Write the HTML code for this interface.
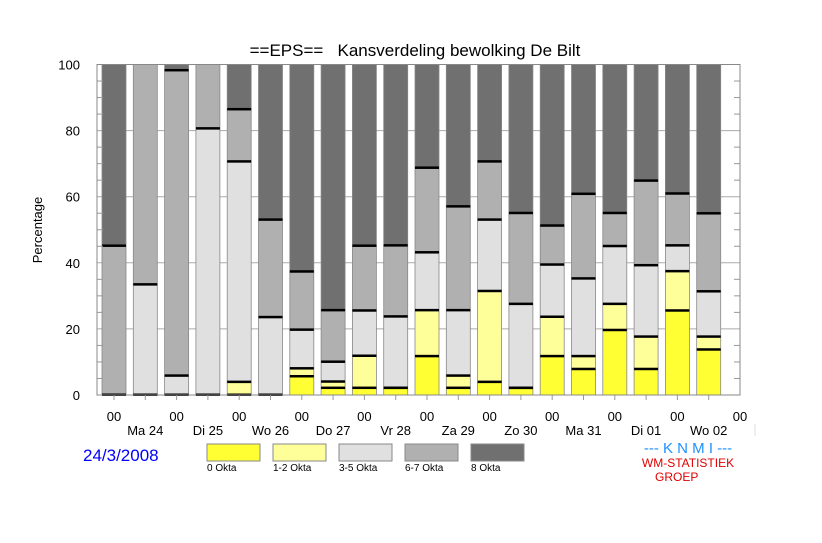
<!DOCTYPE html>
<html><head><meta charset="utf-8"><style>
body{margin:0;background:#fff}
svg text{font-family:"Liberation Sans",sans-serif}
</style></head><body>
<svg width="822" height="538" viewBox="0 0 822 538">
<text x="415" y="56" text-anchor="middle" font-size="17" style="white-space:pre">==EPS==   Kansverdeling bewolking De Bilt</text>
<g id="grid"></g>
<g id="bars"></g>
<g id="axes"></g>
<text transform="translate(42,230) rotate(-90)" text-anchor="middle" font-size="13">Percentage</text>
<text x="83" y="461" font-size="17" fill="#0000ff">24/3/2008</text>
<g id="legend"></g>
<text x="688" y="453" text-anchor="middle" font-size="15" fill="#1e90ff" style="white-space:pre">--- K N M I ---</text>
<text x="688" y="467" text-anchor="middle" font-size="12" fill="#e00000">WM-STATISTIEK</text>
<text x="655" y="481" font-size="12" fill="#e00000">GROEP</text>
<line x1="755" x2="755" y1="424" y2="436" stroke="#ddd"/>
</svg>
<script>
const okta0 = [0,0,0,0,0,0,5.6,2.1,2.1,2.1,11.7,2.1,3.9,2.1,11.7,7.8,19.6,7.8,25.5,13.7];
const okta12 = [0,0,0,0,3.9,0,2.4,1.9,9.7,0,13.9,3.7,27.5,0,11.9,3.9,7.9,9.8,11.9,3.9];
const okta35 = [0,33.4,5.8,80.6,66.7,23.5,11.7,6,13.7,21.6,17.5,19.8,21.6,25.4,15.8,23.5,17.5,21.6,7.8,13.7];
const okta67 = [45.1,66.6,92.4,19.4,15.8,29.5,17.6,15.6,19.6,21.5,25.6,31.4,17.6,27.5,11.8,25.6,10,25.6,15.7,23.6];
const okta8 = [54.9,0,1.8,0,13.6,47,62.7,74.4,54.9,54.8,31.3,43,29.4,45,48.8,39.2,45,35.2,39.1,45.1];
const yTicks = [0,20,40,60,80,100];
const hourLabels = ["00","00","00","00","00","00","00","00","00","00","00"];
const dayLabels = ["Ma 24","Di 25","Wo 26","Do 27","Vr 28","Za 29","Zo 30","Ma 31","Di 01","Wo 02"];
const legendLabels = ["0 Okta","1-2 Okta","3-5 Okta","6-7 Okta","8 Okta"];
const colors = ["#ffff33","#ffff99","#e0e0e0","#b0b0b0","#707070"];

const NS="http://www.w3.org/2000/svg";
const X0=97,X1=740,Y0=395,Y100=64.5;
const x=i=>114+i*31.3;
const y=v=>Y0-(Y0-Y100)*v/100;
function mk(tag,attrs,parent){const e=document.createElementNS(NS,tag);for(const k in attrs)e.setAttribute(k,attrs[k]);parent.appendChild(e);return e;}
const grid=document.getElementById('grid'),bars=document.getElementById('bars'),axes=document.getElementById('axes'),legend=document.getElementById('legend');
yTicks.forEach(t=>{
  if(t>0&&t<100){const l=mk('line',{x1:X0,x2:X1,y1:y(t),y2:y(t),stroke:'#aaa','stroke-width':1},grid);
  
  }
  const tx=mk('text',{x:80,y:y(t)+5,'text-anchor':'end','font-size':13},axes);tx.textContent=t;
  
  
});
for(let v=5;v<100;v+=5){if(v%20===0)continue;
  mk('line',{x1:X0,x2:X0+6,y1:y(v),y2:y(v),stroke:'#999'},axes);
  mk('line',{x1:X1-6,x2:X1,y1:y(v),y2:y(v),stroke:'#999'},axes);}
const series=[okta0,okta12,okta35,okta67,okta8];
for(let i=0;i<okta0.length;i++){
  let c=0;const g=mk('g',{},bars);
  
  
  const tops=[];
  series.forEach((s,k)=>{const v=s[i];if(v>0){const r=mk('rect',{x:x(i)-12,y:y(c+v),width:24,height:y(c)-y(c+v),fill:colors[k],stroke:'#888','stroke-width':0.8},g);
    
    }
    c+=v;if(k<4)tops.push(c);});
  tops.forEach(t=>{if(t<99.5){const l=mk('rect',{x:x(i)-12,y:y(t)-1.5,width:24,height:2.5,fill:'#000'},g);
    
    }});
  mk('line',{x1:x(i),x2:x(i),y1:Y0,y2:Y0+5,stroke:'#999'},axes);
}
const frame=mk('rect',{x:X0,y:Y100,width:X1-X0,height:Y0-Y100,fill:'none',stroke:'#888','stroke-width':1},axes);


hourLabels.forEach((h,j)=>{const t=mk('text',{x:x(2*j),y:421,'text-anchor':'middle','font-size':13},axes);t.textContent=h;
  
  });
dayLabels.forEach((d,j)=>{const t=mk('text',{x:x(2*j+1),y:435,'text-anchor':'middle','font-size':13},axes);t.textContent=d;
  
  });
legendLabels.forEach((lb,k)=>{const lx=207+k*66;
  const r=mk('rect',{x:lx,y:444,width:53,height:17,fill:colors[k],stroke:'#888'},legend);
  
  
  const t=mk('text',{x:lx,y:471,'font-size':10},legend);t.textContent=lb;
  
  });
</script>
</body></html>
